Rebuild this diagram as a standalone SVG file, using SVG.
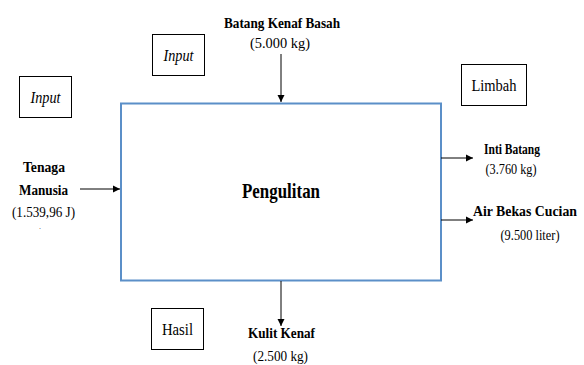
<svg xmlns="http://www.w3.org/2000/svg" width="584" height="365" viewBox="0 0 584 365" font-family="'Liberation Serif', 'DejaVu Serif', 'Times New Roman', serif">
  <style>
    text { font-family: 'Liberation Serif', 'DejaVu Serif', 'Times New Roman', serif; fill: #000; }
    .b { font-weight: bold; font-size: 14px; }
    .n { font-size: 14px; }
    .lbl { font-size: 16px; }
    .it { font-style: italic; }
    .tag { fill: #fff; stroke: #000; stroke-width: 1; }
    .edge { stroke: #000; stroke-width: 1; fill: none; marker-end: url(#arr); }
  </style>
  <defs>
    <marker id="arr" markerWidth="8" markerHeight="8" refX="7" refY="4" orient="auto" markerUnits="userSpaceOnUse">
      <path d="M0,0.5 L7,4 L0,7.5 Z" fill="#000"/>
    </marker>
  </defs>
  <rect width="584" height="365" fill="#fff"/>

  <!-- process block -->
  <g id="pengulitan">
    <rect x="121" y="103.5" width="320" height="177" fill="#fff" stroke="#5b8fc8" stroke-width="2"/>
    <text x="281" y="198" text-anchor="middle" font-weight="bold" font-size="22" textLength="78" lengthAdjust="spacingAndGlyphs">Pengulitan</text>
  </g>

  <!-- category tags -->
  <g id="tag-input-top">
    <rect class="tag" x="152.5" y="34.5" width="52" height="41"/>
    <text class="lbl it" x="178.5" y="61" text-anchor="middle" textLength="30" lengthAdjust="spacingAndGlyphs">Input</text>
  </g>
  <g id="tag-input-left">
    <rect class="tag" x="19.5" y="76.5" width="52" height="41"/>
    <text class="lbl it" x="45.5" y="103" text-anchor="middle" textLength="30" lengthAdjust="spacingAndGlyphs">Input</text>
  </g>
  <g id="tag-limbah">
    <rect class="tag" x="461.5" y="64.5" width="65" height="41"/>
    <text class="lbl" x="494" y="91" text-anchor="middle" textLength="45" lengthAdjust="spacingAndGlyphs">Limbah</text>
  </g>
  <g id="tag-hasil">
    <rect class="tag" x="151.5" y="308.5" width="52" height="41"/>
    <text class="lbl" x="177.5" y="335" text-anchor="middle" textLength="31" lengthAdjust="spacingAndGlyphs">Hasil</text>
  </g>

  <!-- flows -->
  <g id="batang-basah">
    <text class="b" x="282" y="28" text-anchor="middle" textLength="116" lengthAdjust="spacingAndGlyphs">Batang Kenaf Basah</text>
    <text class="n" x="280" y="48" text-anchor="middle" textLength="60" lengthAdjust="spacingAndGlyphs">(5.000 kg)</text>
  </g>
  <g id="tenaga">
    <text class="b" x="44" y="172" text-anchor="middle" textLength="42" lengthAdjust="spacingAndGlyphs">Tenaga</text>
    <text class="b" x="43.5" y="195" text-anchor="middle" textLength="49" lengthAdjust="spacingAndGlyphs">Manusia</text>
    <text class="n" x="43.5" y="217" text-anchor="middle" textLength="63" lengthAdjust="spacingAndGlyphs">(1.539,96 J)</text>
    <text x="40" y="229" text-anchor="middle" font-size="6">.</text>
  </g>
  <g id="inti-batang">
    <text class="b" x="512" y="154" text-anchor="middle" textLength="56" lengthAdjust="spacingAndGlyphs">Inti Batang</text>
    <text class="n" x="511" y="174" text-anchor="middle" textLength="51" lengthAdjust="spacingAndGlyphs">(3.760 kg)</text>
  </g>
  <g id="air-bekas">
    <text class="b" x="525" y="216" text-anchor="middle" textLength="104" lengthAdjust="spacingAndGlyphs">Air Bekas Cucian</text>
    <text class="n" x="530" y="240" text-anchor="middle" textLength="59" lengthAdjust="spacingAndGlyphs">(9.500 liter)</text>
  </g>
  <g id="kulit-kenaf">
    <text class="b" x="281.5" y="338" text-anchor="middle" textLength="67" lengthAdjust="spacingAndGlyphs">Kulit Kenaf</text>
    <text class="n" x="280.5" y="361" text-anchor="middle" textLength="55" lengthAdjust="spacingAndGlyphs">(2.500 kg)</text>
  </g>

  <!-- connectors -->
  <g id="connectors">
    <line class="edge" x1="281" y1="54" x2="281" y2="102"/>
    <line class="edge" x1="80" y1="189" x2="120" y2="189"/>
    <line class="edge" x1="441" y1="158" x2="473" y2="158"/>
    <line class="edge" x1="441" y1="220" x2="473" y2="220"/>
    <line class="edge" x1="281" y1="281" x2="281" y2="326"/>
  </g>
</svg>
